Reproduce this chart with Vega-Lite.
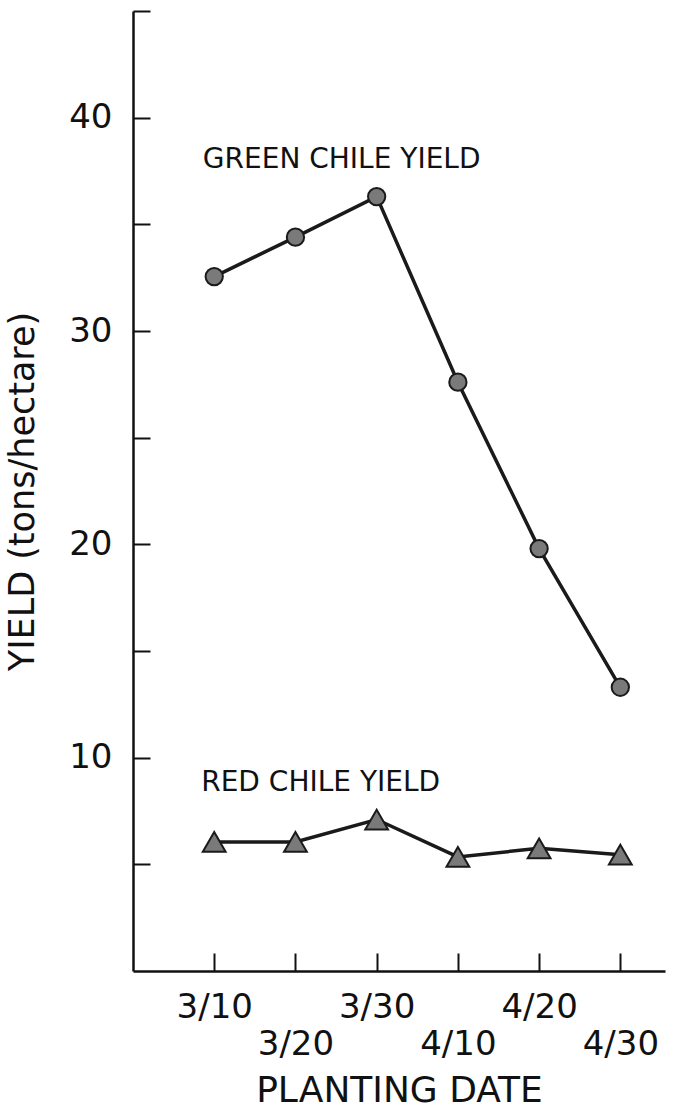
{
  "$schema": "https://vega.github.io/schema/vega-lite/v6.json",
  "width": 532,
  "height": 960,
  "autosize": {"type": "none"},
  "padding": {"left": 133, "top": 11, "right": 12, "bottom": 148},
  "background": "white",
  "config": {"view": {"stroke": null}, "font": "DejaVu Sans"},
  "datasets": {
    "yield": [
      {"date": "3/10", "day": 0, "series": "Green chile", "yield": 32.55},
      {"date": "3/20", "day": 10, "series": "Green chile", "yield": 34.4},
      {"date": "3/30", "day": 20, "series": "Green chile", "yield": 36.3},
      {"date": "4/10", "day": 30, "series": "Green chile", "yield": 27.6},
      {"date": "4/20", "day": 40, "series": "Green chile", "yield": 19.8},
      {"date": "4/30", "day": 50, "series": "Green chile", "yield": 13.3},
      {"date": "3/10", "day": 0, "series": "Red chile", "yield": 6.05},
      {"date": "3/20", "day": 10, "series": "Red chile", "yield": 6.05},
      {"date": "3/30", "day": 20, "series": "Red chile", "yield": 7.1},
      {"date": "4/10", "day": 30, "series": "Red chile", "yield": 5.35},
      {"date": "4/20", "day": 40, "series": "Red chile", "yield": 5.75},
      {"date": "4/30", "day": 50, "series": "Red chile", "yield": 5.45}
    ],
    "labels": [
      {"label": "GREEN CHILE YIELD", "x": -1.4, "y": 37.66},
      {"label": "RED CHILE YIELD", "x": -1.6, "y": 8.45}
    ]
  },
  "layer": [
    {
      "data": {"name": "yield"},
      "mark": {"type": "line", "color": "#1a1a1a", "strokeWidth": 3.5},
      "encoding": {
        "x": {
          "field": "day",
          "type": "quantitative",
          "scale": {"domain": [-10, 55.5], "nice": false, "zero": false},
          "axis": {
            "values": [0, 10, 20, 30, 40, 50],
            "labelExpr": "datum.value == 0 ? '3/10' : datum.value == 10 ? ['', '3/20'] : datum.value == 20 ? '3/30' : datum.value == 30 ? ['', '4/10'] : datum.value == 40 ? '4/20' : ['', '4/30']",
            "grid": false,
            "tickSize": -18,
            "tickWidth": 2,
            "tickColor": "#111",
            "domainColor": "#111",
            "domainWidth": 2.5,
            "labelFontSize": 34,
            "labelColor": "#111",
            "labelBaseline": "top",
            "labelLineHeight": 37,
            "labelPadding": 37,
            "labelOverlap": false,
            "labelFlush": false,
            "title": "PLANTING DATE",
            "titleFontSize": 36,
            "titleFontWeight": "normal",
            "titleColor": "#111",
            "titlePadding": 12
          }
        },
        "y": {
          "field": "yield",
          "type": "quantitative",
          "scale": {"domain": [0, 45], "nice": false},
          "axis": {
            "values": [5, 10, 15, 20, 25, 30, 35, 40, 45],
            "labelExpr": "datum.value % 10 == 0 ? datum.label : ''",
            "grid": false,
            "tickSize": -17,
            "tickWidth": 2,
            "tickColor": "#111",
            "domainColor": "#111",
            "domainWidth": 2.5,
            "labelFontSize": 34,
            "labelColor": "#111",
            "labelPadding": 38,
            "labelOverlap": false,
            "labelFlush": false,
            "title": "YIELD (tons/hectare)",
            "titleFontSize": 35,
            "titleFontWeight": "normal",
            "titleColor": "#111",
            "titlePadding": 28
          }
        },
        "detail": {"field": "series"}
      }
    },
    {
      "data": {"name": "yield"},
      "mark": {"type": "point", "filled": true, "fill": "#7a7a7a", "stroke": "#1a1a1a", "strokeWidth": 2, "opacity": 1},
      "encoding": {
        "x": {"field": "day", "type": "quantitative"},
        "y": {"field": "yield", "type": "quantitative"},
        "shape": {"field": "series", "type": "nominal", "scale": {"domain": ["Green chile", "Red chile"], "range": ["circle", "triangle-up"]}, "legend": null},
        "size": {"field": "series", "type": "nominal", "scale": {"domain": ["Green chile", "Red chile"], "range": [300, 520]}, "legend": null}
      }
    },
    {
      "data": {"name": "labels"},
      "mark": {"type": "text", "align": "left", "baseline": "alphabetic", "fontSize": 28, "font": "DejaVu Sans", "color": "#111"},
      "encoding": {
        "x": {"field": "x", "type": "quantitative"},
        "y": {"field": "y", "type": "quantitative"},
        "text": {"field": "label"}
      }
    }
  ]
}
